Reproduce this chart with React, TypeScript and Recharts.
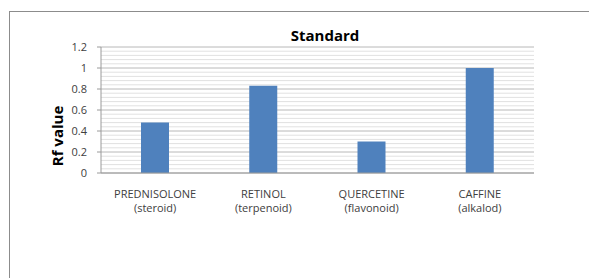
import { Bar, BarChart, CartesianGrid, XAxis, YAxis } from 'recharts';

const compounds = ['PREDNISOLONE', 'RETINOL', 'QUERCETINE', 'CAFFINE'];
const classes = ['(steroid)', '(terpenoid)', '(flavonoid)', '(alkalod)'];
const rfValues = [0.48, 0.83, 0.3, 1.0];
const yTicks = [0, 0.2, 0.4, 0.6, 0.8, 1, 1.2];
const minorTicks = [
  0.04, 0.08, 0.12, 0.16, 0.24, 0.28, 0.32, 0.36, 0.44, 0.48, 0.52, 0.56,
  0.64, 0.68, 0.72, 0.76, 0.84, 0.88, 0.92, 0.96, 1.04, 1.08, 1.12, 1.16,
];

const data = compounds.map((name, i) => ({
  name,
  sub: classes[i],
  rf: rfValues[i],
}));

const FONT = '"Open Sans", Lato, sans-serif';

function CategoryTick({ x, y, payload, index }: any) {
  return (
    <text x={x} y={y} textAnchor="middle" fill="#404040" fontSize={11} fontFamily={FONT}>
      <tspan x={x} dy={17}>{payload.value}</tspan>
      <tspan x={x} dy={14}>{classes[index]}</tspan>
    </text>
  );
}

function RfLabel({ viewBox }: any) {
  const cx = viewBox.x + 57;
  const cy = 136;
  return (
    <text
      x={cx}
      y={cy}
      transform={`rotate(-90 ${cx} ${cy})`}
      textAnchor="middle"
      dominantBaseline="central"
      fontSize={15}
      fontWeight="bold"
      fontFamily={FONT}
      fill="#000"
    >
      Rf value
    </text>
  );
}

export default function App() {
  return (
    <div style={{ position: 'absolute', left: 0, top: 0, width: 589, height: 278, background: '#fff' }}>
      <div
        style={{
          position: 'absolute',
          left: 9,
          top: 11,
          right: 0,
          bottom: 0,
          borderTop: '1px solid #8c8c8c',
          borderLeft: '1px solid #8c8c8c',
        }}
      />
      <div
        style={{
          position: 'absolute',
          left: 225,
          width: 200,
          top: 28,
          lineHeight: '15px',
          textAlign: 'center',
          fontFamily: FONT,
          fontWeight: 'bold',
          fontSize: 15,
          color: '#000',
        }}
      >
        Standard
      </div>
      <BarChart
        width={589}
        height={278}
        data={data}
        margin={{ top: 47, right: 55, left: 0, bottom: 0 }}
        style={{ position: 'absolute', left: 0, top: 0 }}
      >
        <CartesianGrid
          vertical={false}
          horizontalValues={minorTicks}
          stroke="#e1e1e1"
          strokeWidth={1}
        />
        <CartesianGrid vertical={false} stroke="#b8b8b8" strokeWidth={1} />
        <XAxis
          dataKey="name"
          height={105}
          interval={0}
          tickLine={false}
          axisLine={{ stroke: '#9a9a9a' }}
          tick={<CategoryTick />}
        />
        <YAxis
          width={101}
          domain={[0, 1.2]}
          ticks={yTicks}
          interval={0}
          tickSize={4}
          tickMargin={10}
          tickLine={{ stroke: '#9a9a9a' }}
          axisLine={{ stroke: '#9a9a9a' }}
          tick={{ fill: '#404040', fontSize: 11, fontFamily: FONT }}
          label={<RfLabel />}
        />
        <Bar dataKey="rf" fill="#4f81bd" barSize={28} isAnimationActive={false} />
      </BarChart>
    </div>
  );
}
